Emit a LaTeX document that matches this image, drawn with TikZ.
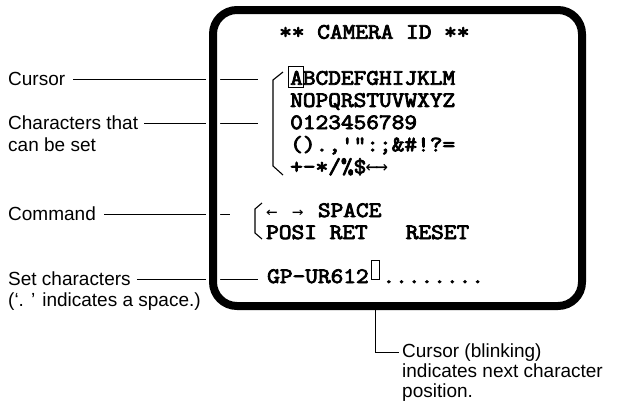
\documentclass[tikz,border=0pt]{standalone}
\usepackage{graphicx}
\usepackage{fontspec}
\setmainfont{Liberation Sans}
\newfontfamily\scrfont{Latin Modern Mono}[FakeBold=3.5]
\newfontfamily\arrfont{DejaVu Sans Mono}
\newcommand{\scr}[1]{\scalebox{1.12}[1]{#1}}
\begin{document}
\begin{tikzpicture}[x=1pt,y=-1pt,
  lbl/.style={anchor=base west,inner sep=0pt,font=\fontsize{19}{20}\selectfont},
  scrtxt/.style={anchor=base west,inner sep=0pt,font=\fontsize{22}{22}\selectfont\scrfont},
  lead/.style={line width=0.9pt},
  brk/.style={line width=1.1pt},
  framebox/.style={rounded corners=24pt,minimum width=369pt,minimum height=296pt,inner sep=0pt}]
\useasboundingbox (0,0) rectangle (622,402);
% labels
\node[lbl] (lcur) at (8,85.8) {Cursor};
\node[lbl] (lchar) at (8,129.8) {Characters that};
\node[lbl] (lchar2) at (8,151.8) {can be set};
\node[lbl] (lcmd) at (8,220.8) {Command};
\node[lbl] (lset) at (8,285.8) {Set characters};
\node[lbl] (lset2) at (8,306.8) {(‘. ’ indicates a space.)};
% screen texts
\node[scrtxt] (title) at (279,38.7) {\scr{** CAMERA ID **}};
\node[scrtxt] (r1) at (290,84.7) {\scr{ABCDEFGHIJKLM}};
\node[scrtxt] (r2) at (290,106.9) {\scr{NOPQRSTUVWXYZ}};
\node[scrtxt] (r3) at (290,129.1) {\scr{0123456789}};
\node[scrtxt] (r4) at (290,151.3) {\scr{().,'":;\&\#!?=}};
\node[scrtxt] (r5) at (290,173.5) {\scr{+-*/\%\$}};
\node[anchor=base west,inner sep=0pt,font=\fontsize{21}{21}\selectfont\arrfont] (r5a) at ([xshift=-1pt]r5.base east) {←\kern-3pt→};
\node[scrtxt] (c1) at (266,217) {\scr{\makebox[23.1pt][l]{\arrfont\fontsize{17}{17}\selectfont ←}\makebox[23.1pt][l]{\arrfont\fontsize{17}{17}\selectfont →}SPACE}};
\node[scrtxt] (c2) at (266,239) {\scr{POSI~RET~~~RESET}};
\node[scrtxt] (gp) at (267,283) {\scr{GP-UR612}};
\node[draw,line width=0.9pt,inner sep=0pt,minimum width=8pt,minimum height=19pt,anchor=south west] (cbox) at ([xshift=2.5pt,yshift=3pt]gp.base east) {};
\node[scrtxt] (dots) at ([xshift=2pt]cbox.east |- gp.base) {\scr{........}};
% cursor box around A
\node[draw,line width=1pt,inner sep=0pt,minimum width=15pt,minimum height=21pt,anchor=south west] (abox) at (288,88) {};
% leader ends
\coordinate (ecur) at (258,0);
\coordinate (ecmd) at (230,0);
\draw[lead] ([xshift=8pt]lcur.east) -- (lcur.east -| ecur);
\draw[lead] ([xshift=6pt]lchar.east) -- (lchar.east -| ecur);
\draw[lead] ([xshift=8pt]lcmd.east) -- (lcmd.east -| ecmd);
\draw[lead] ([xshift=6pt]lset.east) -- (lset.east -| ecur);
% brackets
\draw[brk] (283,72) -- (273,80) -- (273,166) -- (283,175);
\draw[brk] (262,203) -- (255,209) -- (255,233) -- (262,239);
% frame
\node[framebox,draw=white,line width=14pt] (framew) at (397.5,158) {};
\node[framebox,draw=black,line width=8pt] (frame) at (397.5,158) {};
% cursor leader
\node[lbl] (rc1) at (402,357) {Cursor (blinking)};
\node[lbl] (rc2) at (402,377) {indicates next character};
\node[lbl] (rc3) at (402,397) {position.};
\draw[lead] (cbox.south |- frame.south) |- ([xshift=-3pt]rc1.west);
\end{tikzpicture}
\end{document}
